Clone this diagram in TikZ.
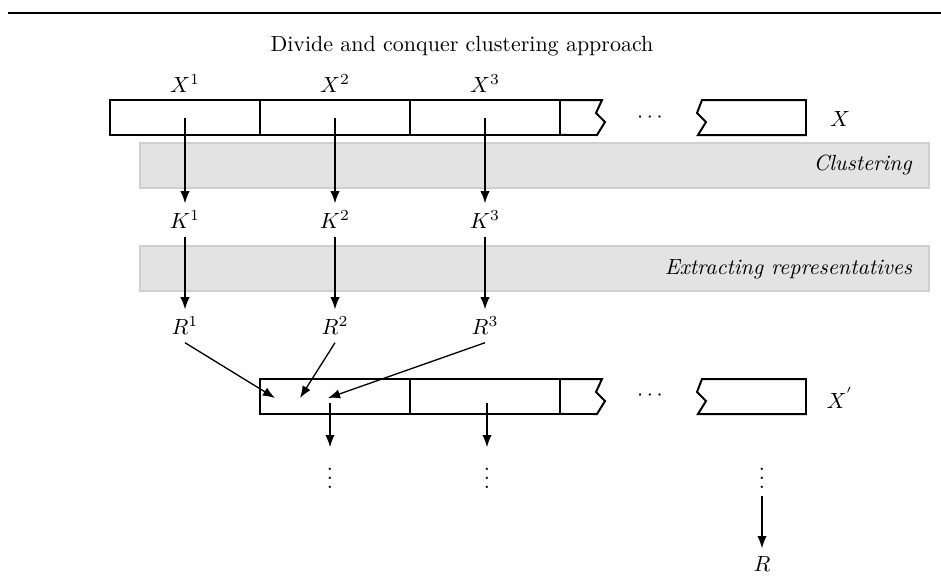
\documentclass[tikz,border=0pt]{standalone}
\usetikzlibrary{arrows.meta}
\tikzset{
  seg/.style={draw, line width=0.9pt, minimum width=68.25pt, minimum height=15.9pt, inner sep=0pt, outer sep=0pt},
  piece/.style={line width=0.9pt, line join=miter},
  band/.style={fill=gray!22, draw=gray!38, line width=0.5pt},
  flow/.style={->, line width=0.6pt}
}
\begin{document}
\begin{tikzpicture}[>={Latex[length=5.5pt,width=4.2pt]}, x=0.455pt, y=-0.455pt]
    \useasboundingbox (0,0) rectangle (941,583);
    % Tiêu đề
    \draw[line width=0.9pt] (8,13) -- (941,13);
    \node (title) at (462,46) {Divide and conquer clustering approach};

    % Các dải xám
    \draw[band] (140,143) rectangle (929,188);
    \node[left] (clu) at (920,165) {\textit{Clustering}};
    \draw[band] (140,246) rectangle (929,291);
    \node[left] (ext) at (920,269) {\textit{Extracting representatives}};

    % Hàng X
    \node[seg] (x1) at (185,117.5) {};
    \node[seg] (x2) at (335,117.5) {};
    \node[seg] (x3) at (485,117.5) {};
    \node (dx) at (650,118) {$\cdots$};
    \node (lx) at (840,119) {$X$};

    % Hàng X'
    \node[seg] (y1) at (335,396.5) {};
    \node[seg] (y2) at (485,396.5) {};
    \node (dy) at (650,396) {$\cdots$};
    \node (ly) at (840,398) {$X^{'}$};

    % Các mảnh bị cắt
    \foreach \y/\b in {100/x3, 379/y2} {
        \draw[piece] (\b.north east) -- (602,\y) -- (596,{\y+13}) -- (605,{\y+22}) -- (597,{\y+35}) -- (\b.south east);
        \draw[piece] (702,\y) -- (806,\y) -- (806,{\y+35}) -- (698,{\y+35}) -- (706,{\y+22}) -- (697,{\y+13}) -- cycle;
    }

    % Các cột
    \foreach \i/\x in {1/185, 2/335, 3/485} {
        \node[above] (lx\i) at (\x,100) {$X^{\i}$};
        \node (k\i) at (\x,220) {$K^{\i}$};
        \node (r\i) at (\x,326) {$R^{\i}$};
        \draw[flow] (x\i.center) -- (k\i);
        \draw[flow] (k\i) -- (r\i);
    }

    % Gộp đại diện
    \coordinate (in1) at (275,398);
    \coordinate (in2) at (300,398);
    \coordinate (in3) at (328,398);
    \draw[flow] (r1.south) -- (in1);
    \draw[flow] (r2.south) -- (in2);
    \draw[flow] (r3.south) -- (in3);

    % Bước tiếp theo
    \coordinate (o1) at (330,403);
    \coordinate (o2) at (487,403);
    \node (v1) at (330,471.5) {$\vdots$};
    \node (v2) at (487,471.5) {$\vdots$};
    \node (v3) at (762,471.5) {$\vdots$};
    \node (res) at (762,563.5) {$R$};
    \draw[flow] (o1) -- (v1);
    \draw[flow] (o2) -- (v2);
    \draw[flow] (v3) -- (res);
\end{tikzpicture}
\end{document}
